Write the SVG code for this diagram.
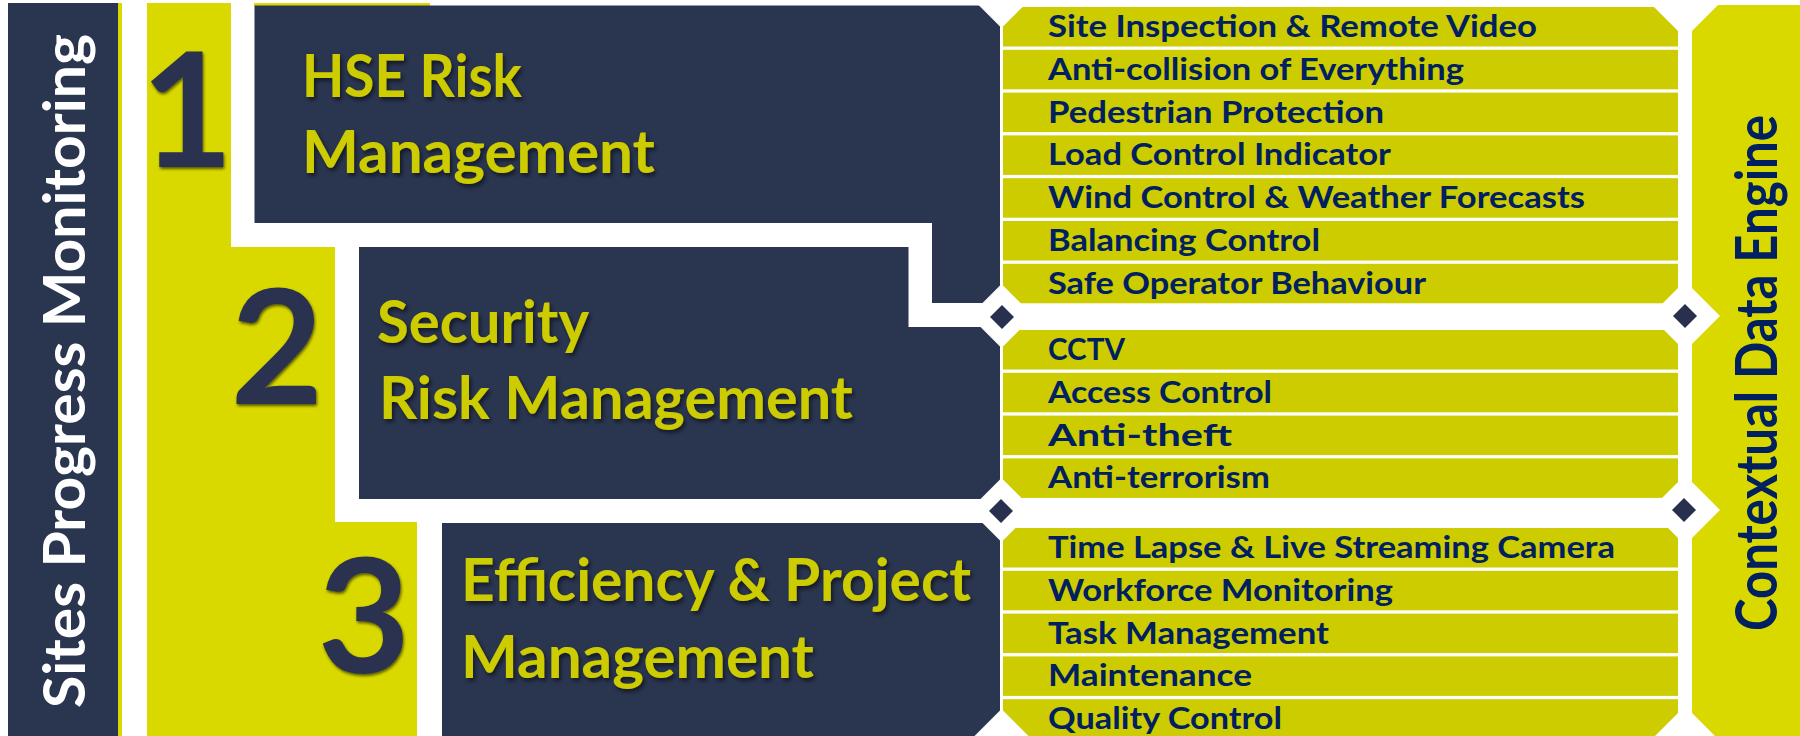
<svg xmlns="http://www.w3.org/2000/svg" width="1800" height="736" viewBox="0 0 1800 736">
<defs>
<style>
.navy{fill:#2a3550}
.yel{fill:#d9d900}
.row{fill:#cccc00}
.gap{fill:#ffffff}
.dia{fill:#28304d}
.title{font-family:Lato,"Open Sans",sans-serif;font-weight:700;font-size:59px;fill:#cccc00;filter:url(#ts)}
.item{font-family:Lato,"Open Sans",sans-serif;font-weight:700;font-size:29.5px;fill:#002060}
.num{font-family:Lato,"Open Sans",sans-serif;font-weight:700;font-size:160px;fill:#29334f;text-anchor:middle;filter:url(#ns)}
.side{font-family:Lato,"Open Sans",sans-serif;font-weight:700;font-size:58px;text-anchor:middle}
</style>
<filter id="ts" x="-10%" y="-20%" width="120%" height="150%">
<feDropShadow dx="2" dy="3" stdDeviation="2" flood-color="#000000" flood-opacity="0.55"/>
</filter>
<filter id="ns" x="-20%" y="-10%" width="140%" height="130%">
<feDropShadow dx="1" dy="2" stdDeviation="1.5" flood-color="#000000" flood-opacity="0.6"/>
</filter>
</defs>
<rect width="1800" height="736" fill="#ffffff"/>

<g id="sites-progress">
<rect class="navy" x="8" y="3" width="110" height="733"/>
<rect class="yel" x="118" y="3" width="4" height="733"/>
<text class="side" fill="#ffffff" transform="translate(85,371) rotate(-90)" textLength="674" lengthAdjust="spacingAndGlyphs">Sites Progress Monitoring</text>
</g>

<g id="steps">
<polygon class="yel" points="147,3 231,3 231,247 335,247 335,522 417,522 417,736 147,736"/>
<rect class="yel" x="254" y="3" width="176" height="3"/>
<text class="num" x="187" y="167">1</text>
<text class="num" x="277" y="404">2</text>
<text class="num" x="364" y="673">3</text>
</g>

<g id="hse">
<polygon class="navy" points="254.5,5.5 1000,5.5 1000,303 932,303 932,223 254.5,223"/>
<text class="title" x="302" y="97" textLength="220" lengthAdjust="spacingAndGlyphs">HSE Risk</text>
<text class="title" x="302" y="173" textLength="353" lengthAdjust="spacingAndGlyphs">Management</text>
</g>

<g id="security">
<polygon class="navy" points="359,247 908.5,247 908.5,327 1000,327 1000,499 359,499"/>
<text class="title" x="377" y="343" textLength="212" lengthAdjust="spacingAndGlyphs">Security</text>
<text class="title" x="379" y="419" textLength="474" lengthAdjust="spacingAndGlyphs">Risk Management</text>
</g>

<g id="efficiency">
<rect class="navy" x="442" y="523" width="558" height="213"/>
<text class="title" x="461" y="601" textLength="510" lengthAdjust="spacingAndGlyphs">Efficiency &amp; Project</text>
<text class="title" x="461" y="678" textLength="353" lengthAdjust="spacingAndGlyphs">Management</text>
</g>

<g id="hse-items">
<rect class="row" x="1003" y="7" width="675" height="39.5"/>
<rect class="row" x="1003" y="49.8" width="675" height="39.5"/>
<rect class="row" x="1003" y="92.6" width="675" height="39.5"/>
<rect class="row" x="1003" y="135.4" width="675" height="39.5"/>
<rect class="row" x="1003" y="178.2" width="675" height="39.5"/>
<rect class="row" x="1003" y="221" width="675" height="39.5"/>
<rect class="row" x="1003" y="263.8" width="675" height="39.5"/>
<text class="item" x="1048" y="37" textLength="489" lengthAdjust="spacingAndGlyphs">Site Inspection &amp; Remote Video</text>
<text class="item" x="1048" y="79.8" textLength="416" lengthAdjust="spacingAndGlyphs">Anti-collision of Everything</text>
<text class="item" x="1048" y="122.6" textLength="336" lengthAdjust="spacingAndGlyphs">Pedestrian Protection</text>
<text class="item" x="1048" y="165.4" textLength="343" lengthAdjust="spacingAndGlyphs">Load Control Indicator</text>
<text class="item" x="1048" y="208.2" textLength="537" lengthAdjust="spacingAndGlyphs">Wind Control &amp; Weather Forecasts</text>
<text class="item" x="1048" y="251" textLength="272" lengthAdjust="spacingAndGlyphs">Balancing Control</text>
<text class="item" x="1048" y="293.8" textLength="378" lengthAdjust="spacingAndGlyphs">Safe Operator Behaviour</text>
</g>

<g id="security-items">
<rect class="row" x="1003" y="330" width="675" height="39.5"/>
<rect class="row" x="1003" y="372.8" width="675" height="39.5"/>
<rect class="row" x="1003" y="415.6" width="675" height="39.5"/>
<rect class="row" x="1003" y="458.4" width="675" height="39.5"/>
<text class="item" x="1048" y="360" textLength="77" lengthAdjust="spacingAndGlyphs">CCTV</text>
<text class="item" x="1048" y="402.8" textLength="224" lengthAdjust="spacingAndGlyphs">Access Control</text>
<text class="item" x="1048" y="445.6" textLength="184" lengthAdjust="spacingAndGlyphs">Anti-theft</text>
<text class="item" x="1048" y="488.4" textLength="222" lengthAdjust="spacingAndGlyphs">Anti-terrorism</text>
</g>

<g id="efficiency-items">
<rect class="row" x="1003" y="528" width="675" height="39.5"/>
<rect class="row" x="1003" y="570.8" width="675" height="39.5"/>
<rect class="row" x="1003" y="613.6" width="675" height="39.5"/>
<rect class="row" x="1003" y="656.4" width="675" height="39.5"/>
<rect class="row" x="1003" y="699.2" width="675" height="39.5"/>
<text class="item" x="1048" y="558" textLength="567" lengthAdjust="spacingAndGlyphs">Time Lapse &amp; Live Streaming Camera</text>
<text class="item" x="1048" y="600.8" textLength="345" lengthAdjust="spacingAndGlyphs">Workforce Monitoring</text>
<text class="item" x="1048" y="643.6" textLength="281" lengthAdjust="spacingAndGlyphs">Task Management</text>
<text class="item" x="1048" y="686.4" textLength="204" lengthAdjust="spacingAndGlyphs">Maintenance</text>
<text class="item" x="1048" y="729.2" textLength="234" lengthAdjust="spacingAndGlyphs">Quality Control</text>
</g>

<g id="contextual-engine">
<rect class="yel" x="1692" y="5" width="108" height="731"/>
<text class="side" fill="#002060" transform="translate(1777,373) rotate(-90)" textLength="516" lengthAdjust="spacingAndGlyphs">Contextual Data Engine</text>
</g>

<g id="connectors">
<polygon class="gap" points="1001.5,-38 1034.5,-5 1001.5,28 968.5,-5"/>
<polygon class="gap" points="1001.5,284 1033.5,316 1001.5,348 969.5,316"/>
<polygon class="gap" points="1001.5,478 1033.5,510 1001.5,542 969.5,510"/>
<polygon class="gap" points="1001.5,709 1033.5,741 1001.5,773 969.5,741"/>
<polygon class="gap" points="1685,-32 1720,3 1685,38 1650,3"/>
<polygon class="gap" points="1685,281 1720,316 1685,351 1650,316"/>
<polygon class="gap" points="1685,475 1720,510 1685,545 1650,510"/>
<polygon class="gap" points="1685,706 1720,741 1685,776 1650,741"/>
<polygon class="dia" points="1002,305 1014,317 1002,329 990,317"/>
<polygon class="dia" points="1001,499 1013,511 1001,523 989,511"/>
<polygon class="dia" points="1685,304 1697,316 1685,328 1673,316"/>
<polygon class="dia" points="1684,498 1696,510 1684,522 1672,510"/>
</g>
</svg>
